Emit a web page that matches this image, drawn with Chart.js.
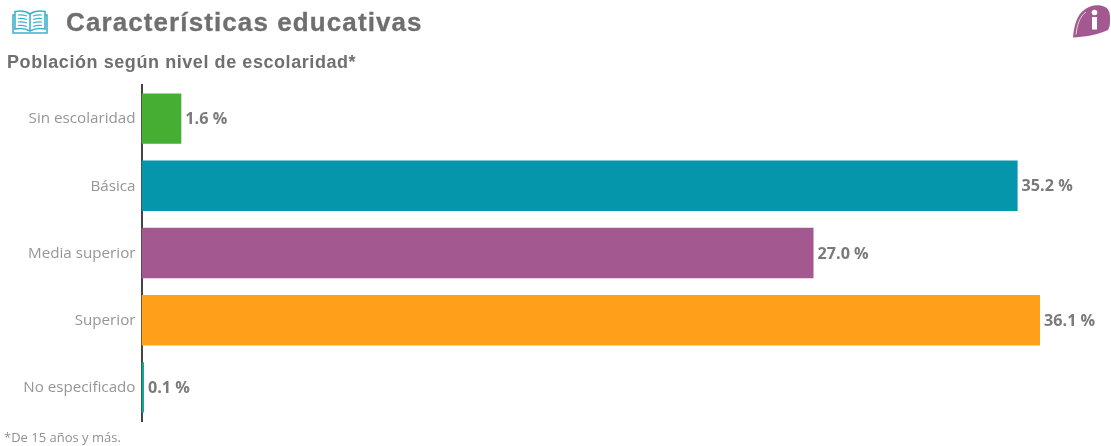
<!DOCTYPE html>
<html lang="es">
<head>
<meta charset="utf-8">
<title>Características educativas</title>
<script src="https://cdn.jsdelivr.net/npm/chart.js@4/dist/chart.umd.min.js"></script>
<style>
  html, body { margin: 0; padding: 0; background: #fff; overflow: hidden; }
  #page { position: relative; width: 1111px; height: 446px; }
  #myChart { position: absolute; left: 0; top: 0; }
  .txt { position: absolute; white-space: nowrap; }
  #head { left: 66px; top: 7px; font: bold 26px "Liberation Sans", sans-serif; color: #6f6f6f; letter-spacing: 1.1px; -webkit-text-stroke: 0.3px #6f6f6f; }
  #sub { left: 7px; top: 52px; font: bold 18px "Liberation Sans", sans-serif; color: #6f6f6f; letter-spacing: 0.57px; }
  #foot { left: 4px; top: 428px; font: 13px "Open Sans", sans-serif; color: #919191; }
  svg { position: absolute; }
</style>
</head>
<body>
<div id="page">
  <canvas id="myChart" width="1111" height="446"></canvas>

  <svg style="left:11px;top:9px" width="38" height="26" viewBox="0 0 38 26" fill="none" stroke="#3fb2cb" stroke-width="1.6">
    <path d="M19 5 C15 2 9 1.5 4 2.5 V20 C9 19 15 19.5 19 22 C23 19.5 29 19 34 20 V2.5 C29 1.5 23 2 19 5 Z"/>
    <path d="M19 5 V22"/>
    <path d="M4 6 H2 V24 H36 V6 H34"/>
    <path d="M7 6 C10 5.5 13 6 16 7 M7 9.5 C10 9 13 9.5 16 10.5 M7 13 C10 12.5 13 13 16 14 M7 16.500 C10 16 13 16.500 16 17.500 M22 7 C25 6 28 5.5 31 6 M22 10.5 C25 9.5 28 9 31 9.5 M22 14 C25 13 28 12.5 31 13 M22 17.500 C25 16.500 28 16 31 16.500" stroke-width="1.2"/>
  </svg>

  <svg style="left:1072px;top:4px" width="39" height="35" viewBox="0 0 39 35">
    <path d="M1 33.500 C2 22 5 11 12 6 C18 1 27 0 33 3 C37 5 38 9 38 14 C38 19 38 23 36 26 C25 31 12 33 1 33.500 Z" fill="#a35890"/>
    <path d="M4 30.500 C5 21 8 12 14 8" fill="none" stroke="#e6cfe0" stroke-width="1"/>
    <circle cx="22.500" cy="8.500" r="2.800" fill="#fff"/>
    <rect x="20" y="13" width="5" height="12.500" fill="#fff"/>
  </svg>

  <div class="txt" id="head">Características educativas</div>
  <div class="txt" id="sub">Población según nivel de escolaridad*</div>
  <div class="txt" id="foot">*De 15 años y más.</div>
</div>

<script>
const categories = ['Sin escolaridad', 'Básica', 'Media superior', 'Superior', 'No especificado'];
const values = [1.6, 35.2, 27.0, 36.1, 0.1];
const barColors = ['#46af33', '#0596ac', '#a35890', '#ffa01a', '#0fa892'];

// writes "35.2 %" just past the end of each bar
const valueLabels = {
  id: 'valueLabels',
  afterDatasetsDraw( chart ){
    let ctx = chart.ctx;
    let bars = chart.getDatasetMeta(0).data;
    ctx.save();
    ctx.font = 'bold 16.2px "Open Sans", sans-serif';
    ctx.fillStyle = '#7a7a7a';
    ctx.textAlign = 'left';
    ctx.textBaseline = 'middle';
    bars.forEach( (bar, i) => {
      ctx.fillText( values[i].toFixed(1) + ' %', bar.x + 4, bar.y + 1 );
    });
    ctx.restore();
  }
};

window.addEventListener("load", () => {
  let ctx = document.getElementById("myChart").getContext("2d");
  new Chart(ctx, {
    type: 'bar',
    data: {
      labels: categories,
      datasets: [{
        data: values,
        backgroundColor: barColors,
        borderWidth: 0,
        categoryPercentage: 1,
        barPercentage: 0.75
      }]
    },
    options: {
      indexAxis: 'y',
      responsive: false,
      animation: false,
      layout: { padding: { top: 85, bottom: 25, left: 0, right: 23.7 } },
      plugins: {
        legend: { display: false },
        title: { display: false },
        tooltip: { enabled: false }
      },
      scales: {
        x: {
          display: false,
          min: 0,
          max: 38
        },
        y: {
          afterFit: (scale) => { scale.width = 141.5; },
          grid: { display: false, drawTicks: false },
          border: { display: true, color: '#444444', width: 2 },
          ticks: {
            autoSkip: false,
            padding: 6,
            labelOffset: 0.5,
            color: '#969696',
            font: { family: '"Open Sans", sans-serif', size: 15.2 }
          }
        }
      }
    },
    plugins: [valueLabels]
  });
});
</script>
</body>
</html>
